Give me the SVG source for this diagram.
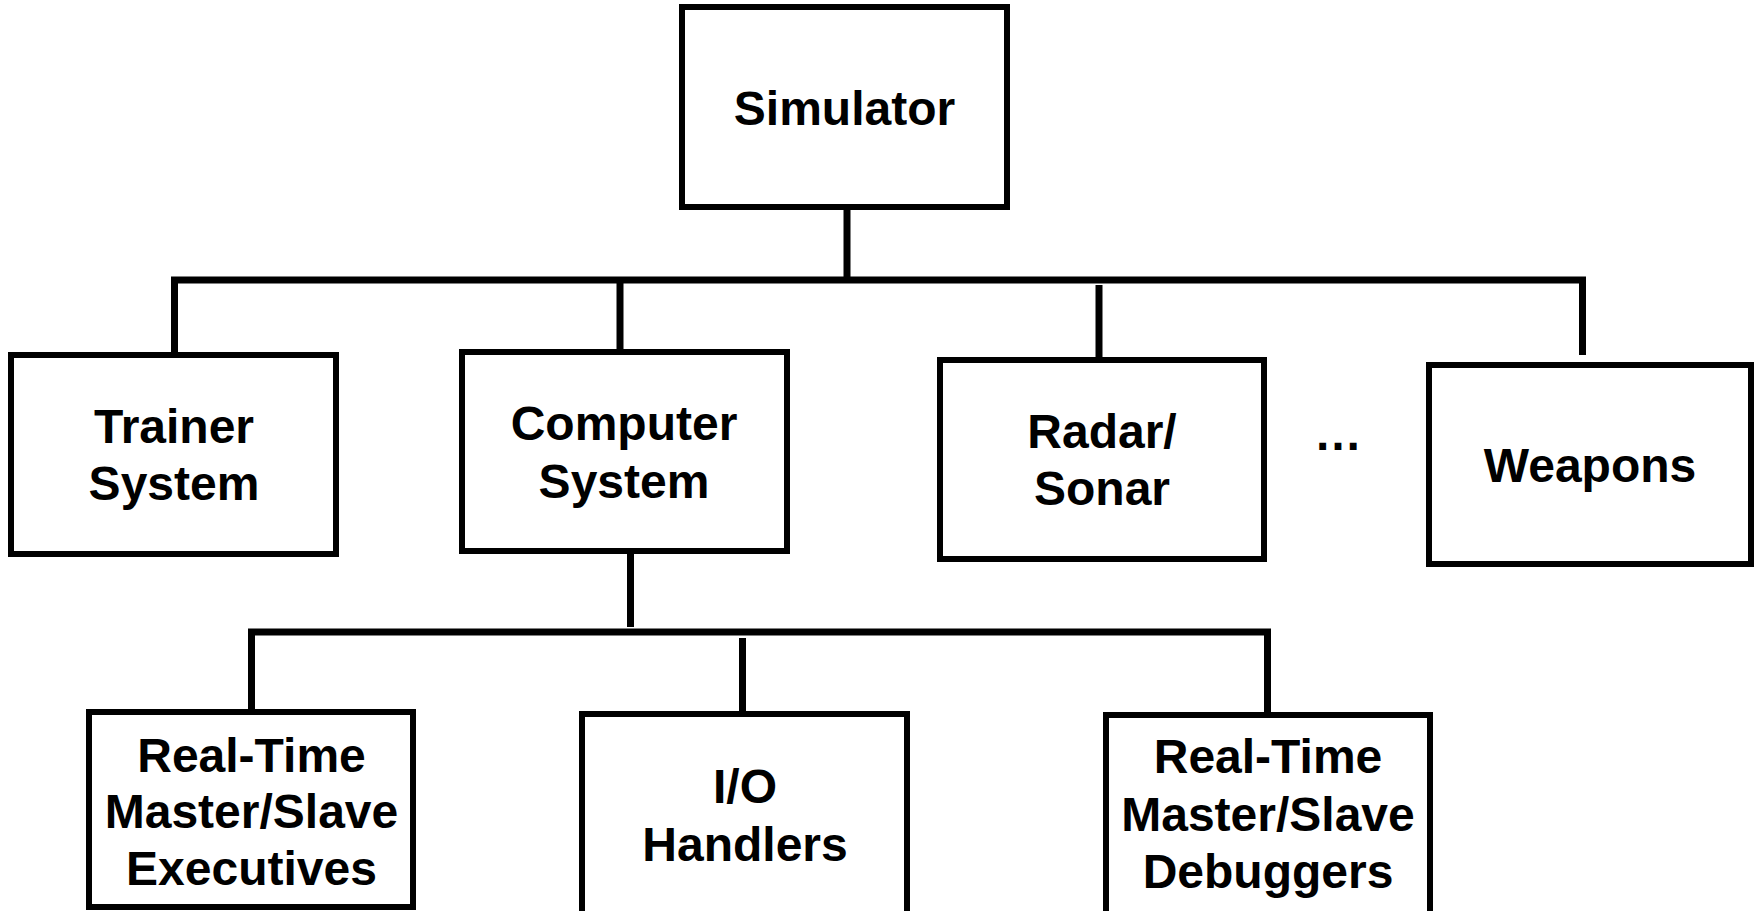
<svg xmlns="http://www.w3.org/2000/svg" width="1756" height="911" viewBox="0 0 1756 911">
<style>
.box{fill:#fff;stroke:#000;stroke-width:6}
.lbl{font-family:"Liberation Sans",Arial,sans-serif;font-weight:bold;font-size:48px;fill:#000;text-anchor:middle}
.con{stroke:#000;stroke-width:7;fill:none}
</style>
<rect width="1756" height="911" fill="#fff"/>
<g id="connectors">
<line class="con" x1="847" y1="207" x2="847" y2="280"/>
<line class="con" x1="171" y1="280" x2="1586" y2="280"/>
<line class="con" x1="174.5" y1="277" x2="174.5" y2="355"/>
<line class="con" x1="620" y1="280" x2="620" y2="352"/>
<line class="con" x1="1099" y1="285" x2="1099" y2="360"/>
<line class="con" x1="1582.5" y1="280" x2="1582.5" y2="355"/>
<line class="con" x1="630.5" y1="551" x2="630.5" y2="627"/>
<line class="con" x1="248" y1="632" x2="1271" y2="632"/>
<line class="con" x1="251.5" y1="629" x2="251.5" y2="712"/>
<line class="con" x1="742.5" y1="638" x2="742.5" y2="714"/>
<line class="con" x1="1267.5" y1="632" x2="1267.5" y2="715"/>
</g>
<g id="simulator"><rect class="box" x="682" y="7" width="325" height="200"/><text class="lbl" x="844.5" y="125">Simulator</text></g>
<g id="trainer"><rect class="box" x="11" y="355" width="325" height="199"/><text class="lbl" x="174" y="443">Trainer</text><text class="lbl" x="174" y="500">System</text></g>
<g id="computer"><rect class="box" x="462" y="352" width="325" height="199"/><text class="lbl" x="624" y="440">Computer</text><text class="lbl" x="624" y="498">System</text></g>
<g id="radar"><rect class="box" x="940" y="360" width="324" height="199"/><text class="lbl" x="1102" y="448">Radar/</text><text class="lbl" x="1102" y="505">Sonar</text></g>
<g id="ellipsis"><text class="lbl" x="1338" y="450">…</text></g>
<g id="weapons"><rect class="box" x="1429" y="365" width="322" height="199"/><text class="lbl" x="1590" y="482">Weapons</text></g>
<g id="executives"><rect class="box" x="89" y="712" width="324" height="195"/><text class="lbl" x="251.5" y="772">Real-Time</text><text class="lbl" x="251.5" y="828">Master/Slave</text><text class="lbl" x="251.5" y="885">Executives</text></g>
<g id="io"><rect class="box" x="582" y="714" width="325" height="230"/><text class="lbl" x="745" y="803">I/O</text><text class="lbl" x="745" y="861">Handlers</text></g>
<g id="debuggers"><rect class="box" x="1106" y="715" width="324" height="230"/><text class="lbl" x="1268" y="773">Real-Time</text><text class="lbl" x="1268" y="831">Master/Slave</text><text class="lbl" x="1268" y="888">Debuggers</text></g>
</svg>
